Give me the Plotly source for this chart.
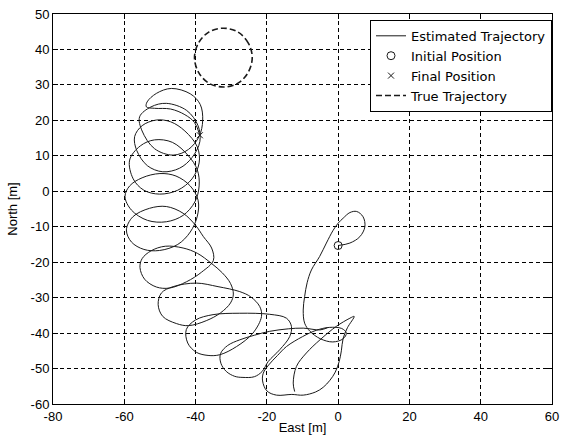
import plotly.graph_objects as go

# Estimated trajectory, drawn as two traced pieces (east / north in metres)
est_seg1_east = [0.0, 3.3, 6.1, 7.5, 7.0, 5.2, 3.3, 1.4, 0.0, -1.4, -3.3, -5.2, -7.5, -8.7, -9.4, -9.8,
                 -9.4, -7.9, -5.0, -1.5, 1.4, 2.3, 1.0, -2.5, -6.1, -10.0, -14.5, -17.0, -19.5, -21.0,
                 -21.2, -20.0, -17.3, -13.0, -9.8, -6.3, -4.2, -2.3, -0.8, 0.3, 0.9, 1.4, 2.6, 4.5, 3.3,
                 -0.5, -5.1, -8.9, -11.7, -12.6, -12.2]
est_seg1_north = [-15.3, -14.6, -12.8, -10.0, -7.2, -5.7, -6.0, -7.6, -9.0, -11.0, -14.6, -18.4, -22.2,
                  -25.8, -29.7, -33.5, -37.2, -39.5, -41.6, -42.5, -41.6, -40.0, -38.7, -38.4, -39.2,
                  -41.0, -43.8, -46.3, -49.0, -51.3, -53.5, -56.3, -57.5, -57.3, -57.5, -56.6, -55.3,
                  -53.3, -51.0, -48.0, -45.0, -41.5, -38.5, -35.3, -35.8, -38.1, -41.9, -45.6, -49.4,
                  -54.1, -56.5]

est_seg2_east = [-3.0, -5.1, -9.8, -14.0, -19.2, -23.5, -27.6, -31.0, -33.0, -32.9, -31.4, -29.0, -26.7,
                 -23.5, -21.3, -19.6, -16.4, -13.6, -13.1, -14.5, -19.2, -27.6, -35.1, -40.0, -42.6,
                 -42.2, -39.8, -36.5, -33.2, -28.5, -23.9, -21.5, -22.0, -24.5, -27.6, -33.7, -39.8,
                 -46.3, -49.6, -50.5, -49.2, -45.4, -42.0, -37.0, -33.0, -30.2, -29.4, -30.2, -32.5,
                 -35.6, -39.5, -43.5, -48.5, -52.5, -55.0, -55.6, -54.3, -51.0, -47.3, -42.5, -38.3,
                 -35.0, -35.5, -37.8, -40.0, -43.5, -48.2, -52.9, -57.6, -59.4, -58.0, -54.5, -50.1,
                 -45.0, -41.5, -39.5, -39.3, -41.5, -45.5, -50.0, -55.0, -58.5, -59.8, -58.0, -53.5,
                 -48.2, -43.5, -40.2, -39.0, -39.5, -42.0, -46.5, -51.5, -55.5, -58.5, -57.5, -54.5,
                 -50.1, -45.0, -41.0, -39.0, -39.5, -43.0, -47.0, -51.0, -55.0, -57.1, -56.5, -53.5,
                 -49.2, -44.5, -41.0, -38.8, -39.3, -42.5, -48.2, -52.5, -55.7, -55.0, -51.5, -46.3,
                 -42.0, -39.0, -38.0, -38.7, -41.5, -46.8, -51.0, -53.6, -53.8, -51.5, -47.0, -43.0,
                 -40.3, -38.8]
est_seg2_north = [-38.5, -39.1, -38.6, -38.8, -39.5, -40.6, -41.9, -43.5, -45.8, -48.5, -50.8, -52.2,
                  -52.5, -52.3, -50.8, -48.0, -44.7, -41.0, -38.1, -35.8, -34.7, -34.4, -34.8, -36.3,
                  -39.0, -42.8, -45.4, -46.3, -46.1, -43.8, -40.0, -35.3, -32.5, -29.8, -28.3, -26.9,
                  -25.9, -26.9, -28.7, -32.0, -35.3, -37.3, -37.9, -36.5, -34.3, -31.5, -29.0, -26.0,
                  -23.0, -20.3, -17.5, -16.0, -15.5, -16.8, -19.0, -21.5, -24.8, -27.0, -27.3, -25.5,
                  -22.8, -19.5, -16.0, -12.8, -9.6, -6.2, -4.3, -4.8, -7.2, -10.9, -14.3, -16.4, -16.7,
                  -15.0, -11.5, -7.0, -2.5, 1.5, 4.3, 5.0, 3.8, 1.5, -1.5, -5.3, -8.2, -8.6, -6.8, -3.0,
                  1.5, 6.0, 10.0, 13.8, 14.5, 12.8, 8.8, 3.5, 0.3, -0.8, 0.3, 3.5, 8.0, 12.5, 17.0, 19.6,
                  20.1, 18.5, 15.4, 11.5, 7.2, 5.5, 6.5, 9.5, 14.0, 18.5, 22.8, 24.8, 23.8, 21.0, 17.0,
                  12.0, 10.2, 11.8, 15.5, 20.0, 24.5, 27.5, 29.0, 27.6, 25.2, 23.8, 23.4, 23.2, 21.6,
                  19.4, 15.8]

# True (circular) trajectory
true_east = [-24.1, -25.2, -28.1, -32.2, -36.3, -39.2, -40.3, -39.2, -36.3, -32.2, -28.1, -25.2, -24.1]
true_north = [37.7, 41.8, 44.9, 46.0, 44.9, 41.8, 37.7, 33.6, 30.5, 29.4, 30.5, 33.6, 37.7]

initial_east, initial_north = [0.0], [-15.3]
final_east, final_north = [-38.8], [15.8]

x_ticks = [-80, -60, -40, -20, 0, 20, 40, 60]
y_ticks = [-60, -50, -40, -30, -20, -10, 0, 10, 20, 30, 40, 50]

# join the two pieces into one trace with a gap between them
est_east = est_seg1_east + [None] + est_seg2_east
est_north = est_seg1_north + [None] + est_seg2_north

FONT = "Liberation Sans, Arial, Helvetica, sans-serif"
LEGEND_FONT = "DejaVu Sans, Liberation Sans, sans-serif"
INK = "#1a1a1a"

fig = go.Figure()
fig.add_trace(go.Scatter(
    x=est_east, y=est_north, mode="lines", name="Estimated Trajectory",
    line=dict(color=INK, width=1, shape="spline", smoothing=1.0),
    connectgaps=False,
))
fig.add_trace(go.Scatter(
    x=initial_east, y=initial_north, mode="markers", name="Initial Position",
    marker=dict(symbol="circle-open", size=8, color=INK, line=dict(width=1, color=INK)),
))
fig.add_trace(go.Scatter(
    x=final_east, y=final_north, mode="markers", name="Final Position",
    marker=dict(symbol="x-thin-open", size=6, color=INK, line=dict(width=1, color=INK)),
))
fig.add_trace(go.Scatter(
    x=true_east, y=true_north, mode="lines", name="True Trajectory",
    line=dict(color=INK, width=1.6, dash="6px,3px", shape="spline", smoothing=1.0),
))

axis_common = dict(
    showline=True, linecolor="black", linewidth=1, mirror="allticks",
    ticks="inside", ticklen=5, tickcolor="black",
    showgrid=True, gridcolor="black", gridwidth=1, griddash="4px,3px",
    zeroline=False, automargin=False,
    tickfont=dict(family=FONT, size=13, color="black"),
)

fig.update_xaxes(
    range=[-80, 60], tickvals=x_ticks, ticktext=[str(v) for v in x_ticks],
    title=dict(text="East [m]", font=dict(family=FONT, size=13, color="black"), standoff=0),
    **axis_common,
)
fig.update_yaxes(
    range=[-60, 50], tickvals=y_ticks, ticktext=[str(v) for v in y_ticks],
    title=dict(text="North [m]", font=dict(family=FONT, size=13, color="black"), standoff=10),
    **axis_common,
)

fig.update_layout(
    width=561, height=447,
    margin=dict(l=53, r=9, t=14, b=43),
    paper_bgcolor="white", plot_bgcolor="white",
    showlegend=True,
    legend=dict(
        x=1.0, y=0.985, xanchor="right", yanchor="top",
        bgcolor="white", bordercolor="black", borderwidth=1,
        font=dict(family=LEGEND_FONT, size=13, color="black"),
        tracegroupgap=0, itemwidth=30,
    ),
)

fig.write_html("out.html")
